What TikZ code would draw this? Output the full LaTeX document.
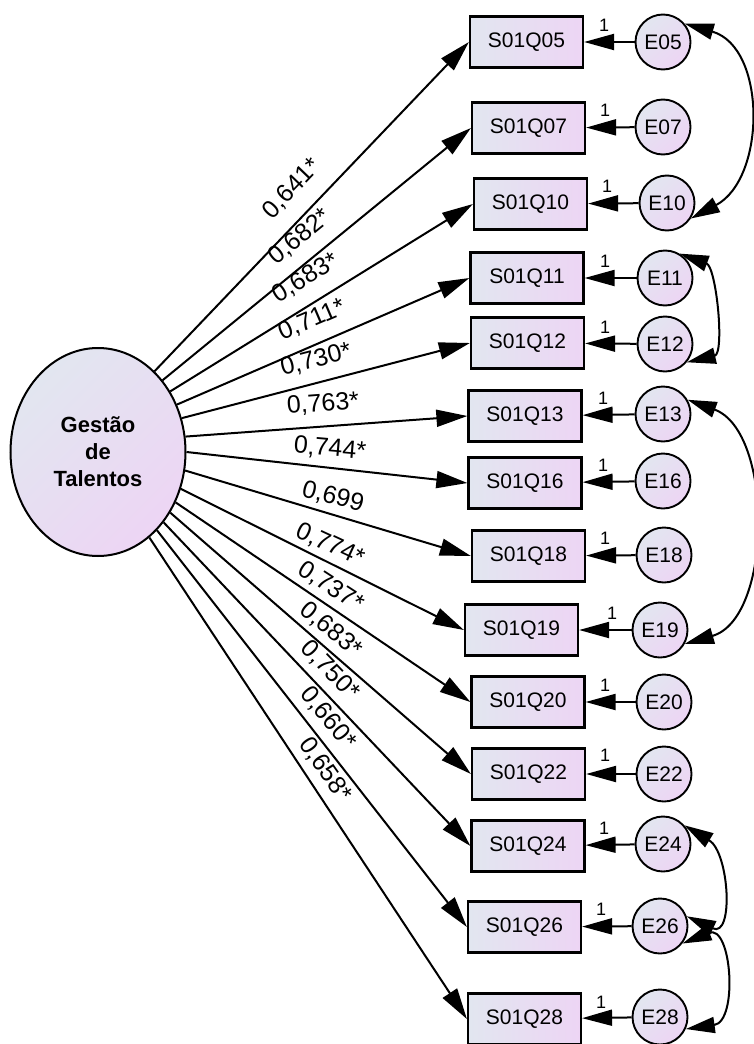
\documentclass[tikz,border=0pt]{standalone}
\usepackage{fontspec}
\setmainfont{Liberation Sans}
\usetikzlibrary{arrows.meta,shapes.geometric}

\definecolor{fillA}{RGB}{226,230,240}
\definecolor{fillB}{RGB}{237,213,244}

\begin{document}
\begin{tikzpicture}[x=1pt,y=1pt,
  obs/.style={draw, line width=2.2pt, minimum width=113pt, minimum height=51pt,
    inner sep=0pt, left color=fillA, right color=fillB,
    font=\fontsize{21}{25}\selectfont},
  err/.style={circle, draw, line width=1.9pt, minimum size=55pt, inner sep=0pt,
    left color=fillA, right color=fillB, shading angle=45,
    font=\fontsize{21}{25}\selectfont},
  lat/.style={ellipse, draw, line width=2pt, minimum width=175pt,
    minimum height=208pt, inner sep=0pt, left color=fillA, right color=fillB,
    shading angle=45, align=center, font=\fontsize{22}{27}\selectfont\bfseries},
  load/.style={line width=2pt, -{Triangle[length=31pt,width=17pt]}},
  res/.style={line width=2pt, -{Triangle[length=30pt,width=16pt]}},
  cov/.style={line width=2pt,
    {Triangle[length=29pt,width=16pt]}-{Triangle[length=29pt,width=16pt]}},
  coef/.style={font=\fontsize{25}{29}\selectfont, inner sep=0pt},
  one/.style={font=\fontsize{18}{20}\selectfont, inner sep=0pt},
]
\useasboundingbox (0,0) rectangle (754,-1044);

% latent factor
\node[lat] (G) at (98,-452) {Gestão\\de\\Talentos};

% observed indicators
\node[obs] (b05) at (526.5,-42)  {S01Q05};
\node[obs] (b07) at (528.5,-128) {S01Q07};
\node[obs] (b10) at (530.5,-204) {S01Q10};
\node[obs] (b11) at (527,-278)   {S01Q11};
\node[obs] (b12) at (527.5,-343) {S01Q12};
\node[obs] (b13) at (525,-416)   {S01Q13};
\node[obs] (b16) at (525,-483)   {S01Q16};
\node[obs] (b18) at (528.5,-556) {S01Q18};
\node[obs] (b19) at (521.5,-630) {S01Q19};
\node[obs] (b20) at (528,-702)   {S01Q20};
\node[obs] (b22) at (528.5,-774) {S01Q22};
\node[obs] (b24) at (528,-846)   {S01Q24};
\node[obs] (b26) at (524.5,-927) {S01Q26};
\node[obs] (b28) at (524.5,-1019){S01Q28};

% error terms
\node[err] (e05) at (663,-42)  {E05};
\node[err] (e07) at (663,-127) {E07};
\node[err] (e10) at (667,-203) {E10};
\node[err] (e11) at (665,-278) {E11};
\node[err] (e12) at (665,-344) {E12};
\node[err] (e13) at (663,-414) {E13};
\node[err] (e16) at (663,-481) {E16};
\node[err] (e18) at (664,-555) {E18};
\node[err] (e19) at (660,-630) {E19};
\node[err] (e20) at (664,-702) {E20};
\node[err] (e22) at (664,-774) {E22};
\node[err] (e24) at (663,-844) {E24};
\node[err] (e26) at (660,-926) {E26};
\node[err] (e28) at (660,-1017){E28};

% factor loadings, each leaving the ellipse at its own border point
\foreach \b/\a in {05/55.3, 07/48.3, 10/40.6, 11/31.8, 12/22.5, 13/10.9,
                   16/-0.5, 18/-12.5, 19/-24.1, 20/-33.0, 22/-40.8,
                   24/-47.4, 26/-53.8, 28/-59.2}
  \draw[load] (G.\a) -- (b\b.west);

% residual paths
\foreach \b in {05,07,10,11,12,13,16,18,19,20,22,24,26,28}
  \draw[res] (e\b) -- (b\b);

% fixed residual weights
\node[one] (o05) at (604,-25)   {1};
\node[one] (o07) at (605,-110)  {1};
\node[one] (o10) at (607,-186)  {1};
\node[one] (o11) at (605,-261)  {1};
\node[one] (o12) at (605,-327)  {1};
\node[one] (o13) at (603,-398)  {1};
\node[one] (o16) at (603,-465)  {1};
\node[one] (o18) at (605,-538)  {1};
\node[one] (o19) at (612,-613)  {1};
\node[one] (o20) at (605,-685)  {1};
\node[one] (o22) at (605,-755)  {1};
\node[one] (o24) at (604,-828)  {1};
\node[one] (o26) at (601,-909)  {1};
\node[one] (o28) at (601,-1002) {1};

% standardized loadings
\node[coef, rotate=46.2]  (c05) at (292,-189) {0,641*};
\node[coef, rotate=39.1]  (c07) at (300,-237) {0,682*};
\node[coef, rotate=31.6]  (c10) at (306,-278) {0,683*};
\node[coef, rotate=23.1]  (c11) at (312,-320) {0,711*};
\node[coef, rotate=14.4]  (c12) at (316,-360) {0,730*};
\node[coef, rotate=4.5]   (c13) at (323,-404) {0,763*};
\node[coef, rotate=-5]    (c16) at (330,-449) {0,744*};
\node[coef, rotate=-14]   (c18) at (333,-497) {0,699};
\node[coef, rotate=-25]   (c19) at (330,-545) {0,774*};
\node[coef, rotate=-33]   (c20) at (331,-587) {0,737*};
\node[coef, rotate=-40]   (c22) at (331,-630) {0,683*};
\node[coef, rotate=-46]   (c24) at (330,-671) {0,750*};
\node[coef, rotate=-51]   (c26) at (328,-718) {0,660*};
\node[coef, rotate=-55]   (c28) at (325,-770) {0,658*};

% error covariances
\draw[cov] (e05.40)  to[out=-16, in=28,  looseness=1.12] (e10.-33);
\draw[cov] (e11.59)  to[out=-20, in=13,  looseness=0.92] (e12.-40);
\draw[cov] (e13.30)  to[out=-20, in=16,  looseness=0.96] (e19.-29);
\draw[cov] (e24.41)  to[out=-31, in=-25, looseness=1.47] (e26.20);
\draw[cov] (e26.-38) to[out=22,  in=8,   looseness=1.59] (e28.-25);
\end{tikzpicture}
\end{document}
